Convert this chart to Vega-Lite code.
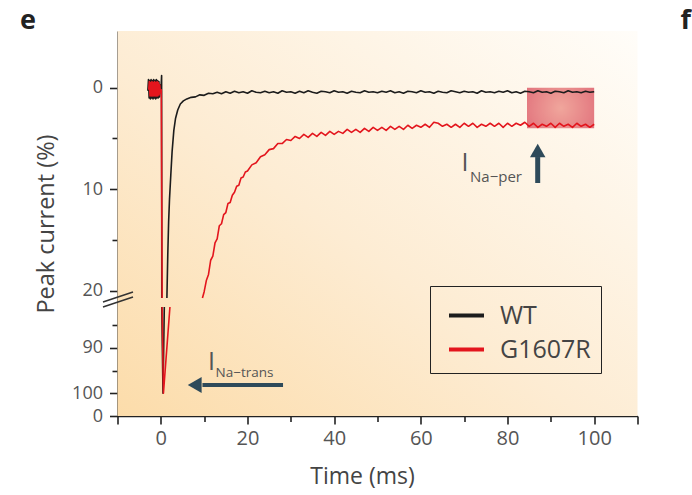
{
  "$schema": "https://vega.github.io/schema/vega-lite/v6.json",
  "width": 520,
  "height": 385,
  "autosize": "none",
  "padding": {"left": 117.5, "top": 31, "right": 54.5, "bottom": 79},
  "background": "white",
  "config": {
    "view": {"stroke": null},
    "font": "Open Sans",
    "axis": {"grid": false, "zindex": 1}
  },
  "datasets": {
    "one": [{}],
    "traces": [
      {"series":"WT","seg":"a","t":-3.0,"v":0.3},{"series":"WT","seg":"a","t":-2.85,"v":-0.8},{"series":"WT","seg":"a","t":-2.7,"v":1.0},{"series":"WT","seg":"a","t":-2.55,"v":-0.7},{"series":"WT","seg":"a","t":-2.4,"v":1.1},{"series":"WT","seg":"a","t":-2.25,"v":-0.8},{"series":"WT","seg":"a","t":-2.1,"v":1.0},{"series":"WT","seg":"a","t":-1.95,"v":-0.7},{"series":"WT","seg":"a","t":-1.8,"v":1.1},{"series":"WT","seg":"a","t":-1.65,"v":-0.8},{"series":"WT","seg":"a","t":-1.5,"v":1.0},{"series":"WT","seg":"a","t":-1.35,"v":-0.7},{"series":"WT","seg":"a","t":-1.2,"v":1.1},{"series":"WT","seg":"a","t":-1.05,"v":-0.8},{"series":"WT","seg":"a","t":-0.9,"v":1.0},{"series":"WT","seg":"a","t":-0.75,"v":-0.7},{"series":"WT","seg":"a","t":-0.6,"v":1.0},{"series":"WT","seg":"a","t":-0.45,"v":-0.6},{"series":"WT","seg":"a","t":-0.3,"v":0.9},{"series":"WT","seg":"a","t":-0.15,"v":-0.3},{"series":"WT","seg":"a","t":0.0,"v":0.4},{"series":"WT","seg":"a","t":0.18,"v":-1.2},{"series":"WT","seg":"a","t":0.22,"v":20.72},
      {"series":"WT","seg":"b","t":0.22,"v":81},{"series":"WT","seg":"b","t":0.5,"v":100},{"series":"WT","seg":"b","t":0.8,"v":81},
      {"series":"WT","seg":"c","t":1.4,"v":20.72},{"series":"WT","seg":"c","t":1.6,"v":16.5},{"series":"WT","seg":"c","t":1.8,"v":13.2},{"series":"WT","seg":"c","t":2.0,"v":11.0},{"series":"WT","seg":"c","t":2.3,"v":8.6},{"series":"WT","seg":"c","t":2.6,"v":6.3},{"series":"WT","seg":"c","t":3.0,"v":4.2},{"series":"WT","seg":"c","t":3.4,"v":3.0},{"series":"WT","seg":"c","t":3.9,"v":2.2},{"series":"WT","seg":"c","t":4.5,"v":1.6},{"series":"WT","seg":"c","t":5.2,"v":1.3},{"series":"WT","seg":"c","t":6,"v":1.1},{"series":"WT","seg":"c","t":7,"v":0.95},{"series":"WT","seg":"c","t":8,"v":0.9},{"series":"WT","seg":"c","t":9,"v":0.7},{"series":"WT","seg":"c","t":10,"v":0.75},{"series":"WT","seg":"c","t":11,"v":0.55},{"series":"WT","seg":"c","t":12,"v":0.6},{"series":"WT","seg":"c","t":13,"v":0.45},{"series":"WT","seg":"c","t":14,"v":0.6},{"series":"WT","seg":"c","t":15,"v":0.4},{"series":"WT","seg":"c","t":16,"v":0.55},{"series":"WT","seg":"c","t":17,"v":0.35},{"series":"WT","seg":"c","t":18,"v":0.5},{"series":"WT","seg":"c","t":19,"v":0.4},{"series":"WT","seg":"c","t":20,"v":0.55},{"series":"WT","seg":"c","t":21,"v":0.3},{"series":"WT","seg":"c","t":22,"v":0.45},{"series":"WT","seg":"c","t":23,"v":0.5},{"series":"WT","seg":"c","t":24,"v":0.35},{"series":"WT","seg":"c","t":25,"v":0.5},{"series":"WT","seg":"c","t":26,"v":0.4},{"series":"WT","seg":"c","t":27,"v":0.55},{"series":"WT","seg":"c","t":28,"v":0.3},{"series":"WT","seg":"c","t":29,"v":0.45},{"series":"WT","seg":"c","t":30,"v":0.4},{"series":"WT","seg":"c","t":31,"v":0.55},{"series":"WT","seg":"c","t":32,"v":0.35},{"series":"WT","seg":"c","t":33,"v":0.5},{"series":"WT","seg":"c","t":34,"v":0.3},{"series":"WT","seg":"c","t":35,"v":0.45},{"series":"WT","seg":"c","t":36,"v":0.55},{"series":"WT","seg":"c","t":37,"v":0.35},{"series":"WT","seg":"c","t":38,"v":0.4},{"series":"WT","seg":"c","t":39,"v":0.5},{"series":"WT","seg":"c","t":40,"v":0.3},{"series":"WT","seg":"c","t":41,"v":0.45},{"series":"WT","seg":"c","t":42,"v":0.4},{"series":"WT","seg":"c","t":43,"v":0.55},{"series":"WT","seg":"c","t":44,"v":0.35},{"series":"WT","seg":"c","t":45,"v":0.45},{"series":"WT","seg":"c","t":46,"v":0.5},{"series":"WT","seg":"c","t":47,"v":0.3},{"series":"WT","seg":"c","t":48,"v":0.45},{"series":"WT","seg":"c","t":49,"v":0.4},{"series":"WT","seg":"c","t":50,"v":0.5},{"series":"WT","seg":"c","t":51,"v":0.35},{"series":"WT","seg":"c","t":52,"v":0.45},{"series":"WT","seg":"c","t":53,"v":0.3},{"series":"WT","seg":"c","t":54,"v":0.5},{"series":"WT","seg":"c","t":55,"v":0.4},{"series":"WT","seg":"c","t":56,"v":0.55},{"series":"WT","seg":"c","t":57,"v":0.35},{"series":"WT","seg":"c","t":58,"v":0.4},{"series":"WT","seg":"c","t":59,"v":0.5},{"series":"WT","seg":"c","t":60,"v":0.3},{"series":"WT","seg":"c","t":61,"v":0.45},{"series":"WT","seg":"c","t":62,"v":0.4},{"series":"WT","seg":"c","t":63,"v":0.55},{"series":"WT","seg":"c","t":64,"v":0.35},{"series":"WT","seg":"c","t":65,"v":0.45},{"series":"WT","seg":"c","t":66,"v":0.5},{"series":"WT","seg":"c","t":67,"v":0.3},{"series":"WT","seg":"c","t":68,"v":0.4},{"series":"WT","seg":"c","t":69,"v":0.5},{"series":"WT","seg":"c","t":70,"v":0.35},{"series":"WT","seg":"c","t":71,"v":0.45},{"series":"WT","seg":"c","t":72,"v":0.4},{"series":"WT","seg":"c","t":73,"v":0.55},{"series":"WT","seg":"c","t":74,"v":0.3},{"series":"WT","seg":"c","t":75,"v":0.45},{"series":"WT","seg":"c","t":76,"v":0.4},{"series":"WT","seg":"c","t":77,"v":0.5},{"series":"WT","seg":"c","t":78,"v":0.35},{"series":"WT","seg":"c","t":79,"v":0.45},{"series":"WT","seg":"c","t":80,"v":0.3},{"series":"WT","seg":"c","t":81,"v":0.5},{"series":"WT","seg":"c","t":82,"v":0.4},{"series":"WT","seg":"c","t":83,"v":0.55},{"series":"WT","seg":"c","t":84,"v":0.35},{"series":"WT","seg":"c","t":85,"v":0.4},{"series":"WT","seg":"c","t":86,"v":0.5},{"series":"WT","seg":"c","t":87,"v":0.3},{"series":"WT","seg":"c","t":88,"v":0.45},{"series":"WT","seg":"c","t":89,"v":0.4},{"series":"WT","seg":"c","t":90,"v":0.55},{"series":"WT","seg":"c","t":91,"v":0.35},{"series":"WT","seg":"c","t":92,"v":0.4},{"series":"WT","seg":"c","t":93,"v":0.5},{"series":"WT","seg":"c","t":94,"v":0.3},{"series":"WT","seg":"c","t":95,"v":0.45},{"series":"WT","seg":"c","t":96,"v":0.4},{"series":"WT","seg":"c","t":97,"v":0.5},{"series":"WT","seg":"c","t":98,"v":0.35},{"series":"WT","seg":"c","t":99,"v":0.45},{"series":"WT","seg":"c","t":100,"v":0.4},
      {"series":"G1607R","seg":"a","t":-2.8,"v":0.2},{"series":"G1607R","seg":"a","t":-2.65,"v":-0.6},{"series":"G1607R","seg":"a","t":-2.5,"v":0.8},{"series":"G1607R","seg":"a","t":-2.35,"v":-0.5},{"series":"G1607R","seg":"a","t":-2.2,"v":0.8},{"series":"G1607R","seg":"a","t":-2.05,"v":-0.6},{"series":"G1607R","seg":"a","t":-1.9,"v":0.8},{"series":"G1607R","seg":"a","t":-1.75,"v":-0.5},{"series":"G1607R","seg":"a","t":-1.6,"v":0.8},{"series":"G1607R","seg":"a","t":-1.45,"v":-0.6},{"series":"G1607R","seg":"a","t":-1.3,"v":0.8},{"series":"G1607R","seg":"a","t":-1.15,"v":-0.5},{"series":"G1607R","seg":"a","t":-1.0,"v":0.8},{"series":"G1607R","seg":"a","t":-0.85,"v":-0.6},{"series":"G1607R","seg":"a","t":-0.7,"v":0.8},{"series":"G1607R","seg":"a","t":-0.55,"v":-0.5},{"series":"G1607R","seg":"a","t":-0.4,"v":0.7},{"series":"G1607R","seg":"a","t":-0.25,"v":-0.3},{"series":"G1607R","seg":"a","t":-0.1,"v":0.5},{"series":"G1607R","seg":"a","t":0.1,"v":0.2},{"series":"G1607R","seg":"a","t":0.3,"v":20.72},
      {"series":"G1607R","seg":"b","t":0.3,"v":81},{"series":"G1607R","seg":"b","t":0.6,"v":100},{"series":"G1607R","seg":"b","t":2.1,"v":81},
      {"series":"G1607R","seg":"c","t":9.6,"v":20.72},{"series":"G1607R","seg":"c","t":10,"v":20.1},{"series":"G1607R","seg":"c","t":10.5,"v":19.0},{"series":"G1607R","seg":"c","t":11,"v":18.4},{"series":"G1607R","seg":"c","t":11.5,"v":17.0},{"series":"G1607R","seg":"c","t":12,"v":16.6},{"series":"G1607R","seg":"c","t":12.5,"v":15.3},{"series":"G1607R","seg":"c","t":13,"v":14.9},{"series":"G1607R","seg":"c","t":13.5,"v":13.6},{"series":"G1607R","seg":"c","t":14,"v":13.4},{"series":"G1607R","seg":"c","t":14.5,"v":12.5},{"series":"G1607R","seg":"c","t":15,"v":12.3},{"series":"G1607R","seg":"c","t":15.5,"v":11.4},{"series":"G1607R","seg":"c","t":16,"v":11.3},{"series":"G1607R","seg":"c","t":16.5,"v":10.6},{"series":"G1607R","seg":"c","t":17,"v":10.3},{"series":"G1607R","seg":"c","t":17.5,"v":9.7},{"series":"G1607R","seg":"c","t":18,"v":9.6},{"series":"G1607R","seg":"c","t":18.5,"v":8.9},{"series":"G1607R","seg":"c","t":19,"v":8.8},{"series":"G1607R","seg":"c","t":19.5,"v":8.3},{"series":"G1607R","seg":"c","t":20,"v":8.2},{"series":"G1607R","seg":"c","t":21,"v":7.6},{"series":"G1607R","seg":"c","t":22,"v":7.4},{"series":"G1607R","seg":"c","t":23,"v":6.8},{"series":"G1607R","seg":"c","t":24,"v":6.6},{"series":"G1607R","seg":"c","t":25,"v":6.1},{"series":"G1607R","seg":"c","t":26,"v":6.0},{"series":"G1607R","seg":"c","t":27,"v":5.5},{"series":"G1607R","seg":"c","t":28,"v":5.5},{"series":"G1607R","seg":"c","t":29,"v":5.1},{"series":"G1607R","seg":"c","t":30,"v":5.2},{"series":"G1607R","seg":"c","t":31,"v":4.8},{"series":"G1607R","seg":"c","t":32,"v":5.0},{"series":"G1607R","seg":"c","t":33,"v":4.6},{"series":"G1607R","seg":"c","t":34,"v":4.9},{"series":"G1607R","seg":"c","t":35,"v":4.5},{"series":"G1607R","seg":"c","t":36,"v":4.8},{"series":"G1607R","seg":"c","t":37,"v":4.4},{"series":"G1607R","seg":"c","t":38,"v":4.7},{"series":"G1607R","seg":"c","t":39,"v":4.3},{"series":"G1607R","seg":"c","t":40,"v":4.6},{"series":"G1607R","seg":"c","t":41,"v":4.3},{"series":"G1607R","seg":"c","t":42,"v":4.5},{"series":"G1607R","seg":"c","t":43,"v":4.1},{"series":"G1607R","seg":"c","t":44,"v":4.4},{"series":"G1607R","seg":"c","t":45,"v":4.1},{"series":"G1607R","seg":"c","t":46,"v":4.4},{"series":"G1607R","seg":"c","t":47,"v":4.0},{"series":"G1607R","seg":"c","t":48,"v":4.3},{"series":"G1607R","seg":"c","t":49,"v":3.9},{"series":"G1607R","seg":"c","t":50,"v":4.2},{"series":"G1607R","seg":"c","t":51,"v":3.9},{"series":"G1607R","seg":"c","t":52,"v":4.2},{"series":"G1607R","seg":"c","t":53,"v":3.8},{"series":"G1607R","seg":"c","t":54,"v":4.1},{"series":"G1607R","seg":"c","t":55,"v":3.8},{"series":"G1607R","seg":"c","t":56,"v":4.1},{"series":"G1607R","seg":"c","t":57,"v":3.7},{"series":"G1607R","seg":"c","t":58,"v":4.0},{"series":"G1607R","seg":"c","t":59,"v":3.7},{"series":"G1607R","seg":"c","t":60,"v":3.9},{"series":"G1607R","seg":"c","t":61,"v":3.6},{"series":"G1607R","seg":"c","t":62,"v":3.9},{"series":"G1607R","seg":"c","t":63,"v":3.4},{"series":"G1607R","seg":"c","t":64,"v":3.5},{"series":"G1607R","seg":"c","t":65,"v":3.8},{"series":"G1607R","seg":"c","t":66,"v":3.6},{"series":"G1607R","seg":"c","t":67,"v":3.9},{"series":"G1607R","seg":"c","t":68,"v":3.6},{"series":"G1607R","seg":"c","t":69,"v":3.9},{"series":"G1607R","seg":"c","t":70,"v":3.5},{"series":"G1607R","seg":"c","t":71,"v":3.8},{"series":"G1607R","seg":"c","t":72,"v":3.5},{"series":"G1607R","seg":"c","t":73,"v":3.9},{"series":"G1607R","seg":"c","t":74,"v":3.6},{"series":"G1607R","seg":"c","t":75,"v":3.8},{"series":"G1607R","seg":"c","t":76,"v":3.5},{"series":"G1607R","seg":"c","t":77,"v":3.8},{"series":"G1607R","seg":"c","t":78,"v":3.5},{"series":"G1607R","seg":"c","t":79,"v":3.9},{"series":"G1607R","seg":"c","t":80,"v":3.5},{"series":"G1607R","seg":"c","t":81,"v":3.8},{"series":"G1607R","seg":"c","t":82,"v":3.5},{"series":"G1607R","seg":"c","t":83,"v":3.7},{"series":"G1607R","seg":"c","t":84,"v":3.4},{"series":"G1607R","seg":"c","t":85,"v":3.8},{"series":"G1607R","seg":"c","t":86,"v":3.5},{"series":"G1607R","seg":"c","t":87,"v":3.9},{"series":"G1607R","seg":"c","t":88,"v":3.6},{"series":"G1607R","seg":"c","t":89,"v":3.8},{"series":"G1607R","seg":"c","t":90,"v":3.5},{"series":"G1607R","seg":"c","t":91,"v":3.9},{"series":"G1607R","seg":"c","t":92,"v":3.5},{"series":"G1607R","seg":"c","t":93,"v":3.8},{"series":"G1607R","seg":"c","t":94,"v":3.6},{"series":"G1607R","seg":"c","t":95,"v":3.9},{"series":"G1607R","seg":"c","t":96,"v":3.5},{"series":"G1607R","seg":"c","t":97,"v":3.8},{"series":"G1607R","seg":"c","t":98,"v":3.6},{"series":"G1607R","seg":"c","t":99,"v":3.9},{"series":"G1607R","seg":"c","t":100,"v":3.6}
    ]
  },
  "layer": [
    {
      "data": {"name": "one"},
      "mark": {"type": "rect", "color": {"gradient": "linear", "x1": 0, "y1": 1, "x2": 1, "y2": 0, "stops": [{"offset": 0, "color": "#fcdcaa"}, {"offset": 0.45, "color": "#fdecd3"}, {"offset": 1, "color": "#fffdf9"}]}},
      "encoding": {
        "x": {"datum": -10, "type": "quantitative"}, "x2": {"datum": 110},
        "y": {"datum": -5.59, "type": "quantitative"}, "y2": {"datum": 105}
      }
    },
    {
      "data": {"name": "one"},
      "mark": {"type": "rect", "color": {"gradient": "radial", "x1": 0.5, "y1": 0.5, "r1": 0, "x2": 0.5, "y2": 0.5, "r2": 0.7, "stops": [{"offset": 0, "color": "#f0a69c"}, {"offset": 1, "color": "#df6a77"}]}},
      "encoding": {
        "x": {"datum": 84.5, "type": "quantitative"}, "x2": {"datum": 100},
        "y": {"datum": 0, "type": "quantitative"}, "y2": {"datum": 4.0}
      }
    },
    {
      "data": {"name": "traces"},
      "mark": {"type": "line", "strokeWidth": 1.6, "strokeJoin": "round"},
      "encoding": {
        "x": {
          "field": "t", "type": "quantitative",
          "scale": {"domain": [-10, 110], "nice": false, "zero": false},
          "axis": {
            "title": "Time (ms)", "titleX": 244.5, "titleFontSize": 23, "titleFont": "Open Sans", "titleFontWeight": "normal", "titleColor": "#444", "titlePadding": 17,
            "values": [-10, 0, 10, 20, 30, 40, 50, 60, 70, 80, 90, 100, 110],
            "labelExpr": "datum.value % 20 === 0 ? datum.label : ''",
            "labelFontSize": 20, "labelColor": "#555", "labelPadding": 4, "labelFlush": false, "labelOverlap": false,
            "domainColor": "#222", "domainWidth": 1.6, "tickColor": "#222", "tickWidth": 1.6,
            "tickSize": {"condition": {"test": "datum.value % 20 === 0 || datum.value === -10 || datum.value === 110", "value": 8}, "value": 5.5}
          }
        },
        "y": {
          "field": "v", "type": "quantitative",
          "scale": {"domain": [-5.59, 20.72, 81, 105], "range": [0, 267, 276, 385], "nice": false, "zero": false},
          "axis": {
            "title": "Peak current (%)", "titleFontSize": 23.5, "titleFont": "Open Sans", "titleFontWeight": "normal", "titleColor": "#444", "titlePadding": 13,
            "values": [0, 5, 10, 15, 20, 85, 90, 95, 100, 105],
            "labelExpr": "datum.value === 105 ? '0' : (datum.value % 10 === 0 ? datum.label : '')",
            "labelFontSize": 18, "labelColor": "#555", "labelPadding": 7, "labelFlush": false, "labelOverlap": false,
            "domainColor": "#222", "domainWidth": 1.6, "tickColor": "#222", "tickWidth": 1.6,
            "tickSize": {"condition": {"test": "datum.value % 10 === 0 || datum.value === 105", "value": 8}, "value": 5.5}
          }
        },
        "color": {
          "field": "series", "type": "nominal",
          "scale": {"domain": ["WT", "G1607R"], "range": ["#1c1c1c", "#e3151d"]},
          "legend": {
            "title": null, "orient": "none", "legendX": 312.5, "legendY": 255,
            "padding": 10, "strokeColor": "#222", "fillColor": null,
            "symbolType": "stroke", "symbolSize": 1225, "symbolStrokeWidth": 4, "symbolOffset": 7,
            "labelFont": "Open Sans", "labelFontSize": 25, "labelColor": "#444", "labelOffset": 14, "rowPadding": 1
          }
        },
        "detail": {"field": "seg"},
        "order": {"field": "t", "type": "quantitative"}
      }
    },
    {
      "data": {"name": "one"},
      "mark": {"type": "rule", "color": "#333", "strokeWidth": 1.5},
      "encoding": {
        "x": {"datum": -13.35, "type": "quantitative"}, "x2": {"datum": -6.42},
        "y": {"datum": 81, "type": "quantitative"}, "y2": {"datum": 20.62}
      }
    },
    {
      "data": {"name": "one"},
      "mark": {"type": "rule", "color": "#333", "strokeWidth": 1.5},
      "encoding": {
        "x": {"datum": -13.35, "type": "quantitative"}, "x2": {"datum": -6.42},
        "y": {"datum": 47.5, "type": "quantitative"}, "y2": {"datum": 20.13}
      }
    },
    {
      "data": {"name": "one"},
      "mark": {"type": "rule", "color": "#2e4a5a", "strokeWidth": 5},
      "encoding": {
        "x": {"datum": 86.97, "type": "quantitative"},
        "y": {"datum": 6.83, "type": "quantitative"}, "y2": {"datum": 9.39}
      }
    },
    {
      "data": {"name": "one"},
      "mark": {"type": "point", "shape": "triangle-up", "filled": true, "size": 240, "color": "#2e4a5a", "opacity": 1},
      "encoding": {
        "x": {"datum": 86.97, "type": "quantitative"},
        "y": {"datum": 6.19, "type": "quantitative"}
      }
    },
    {
      "data": {"name": "one"},
      "mark": {"type": "rule", "color": "#2e4a5a", "strokeWidth": 4},
      "encoding": {
        "x": {"datum": 9.6, "type": "quantitative"}, "x2": {"datum": 28.2},
        "y": {"datum": 98.2, "type": "quantitative"}
      }
    },
    {
      "data": {"name": "one"},
      "mark": {"type": "point", "shape": "triangle-left", "filled": true, "size": 256, "color": "#2e4a5a", "opacity": 1},
      "encoding": {
        "x": {"datum": 7.82, "type": "quantitative"},
        "y": {"datum": 98.2, "type": "quantitative"}
      }
    },
    {
      "data": {"name": "one"},
      "mark": {"type": "text", "text": "I", "font": "Open Sans", "fontSize": 25, "color": "#555", "align": "center", "baseline": "middle"},
      "encoding": {"x": {"datum": 70.2, "type": "quantitative"}, "y": {"datum": 7.42, "type": "quantitative"}}
    },
    {
      "data": {"name": "one"},
      "mark": {"type": "text", "text": "Na−per", "font": "Open Sans", "fontSize": 15, "color": "#555", "align": "left", "baseline": "middle"},
      "encoding": {"x": {"datum": 71.35, "type": "quantitative"}, "y": {"datum": 8.8, "type": "quantitative"}}
    },
    {
      "data": {"name": "one"},
      "mark": {"type": "text", "text": "I", "font": "Open Sans", "fontSize": 25, "color": "#555", "align": "center", "baseline": "middle"},
      "encoding": {"x": {"datum": 11.69, "type": "quantitative"}, "y": {"datum": 93.2, "type": "quantitative"}}
    },
    {
      "data": {"name": "one"},
      "mark": {"type": "text", "text": "Na−trans", "font": "Open Sans", "fontSize": 13.5, "color": "#555", "align": "left", "baseline": "middle"},
      "encoding": {"x": {"datum": 12.62, "type": "quantitative"}, "y": {"datum": 95.5, "type": "quantitative"}}
    },
    {
      "data": {"name": "one"},
      "mark": {"type": "text", "text": "e", "font": "Open Sans", "fontSize": 27, "fontWeight": "bold", "color": "#222", "align": "left", "baseline": "alphabetic"},
      "encoding": {"x": {"datum": -32.5, "type": "quantitative"}, "y": {"datum": -5.78, "type": "quantitative"}}
    },
    {
      "data": {"name": "one"},
      "mark": {"type": "text", "text": "f", "font": "Open Sans", "fontSize": 27, "fontWeight": "bold", "color": "#222", "align": "left", "baseline": "alphabetic"},
      "encoding": {"x": {"datum": 119.9, "type": "quantitative"}, "y": {"datum": -5.78, "type": "quantitative"}}
    }
  ]
}
